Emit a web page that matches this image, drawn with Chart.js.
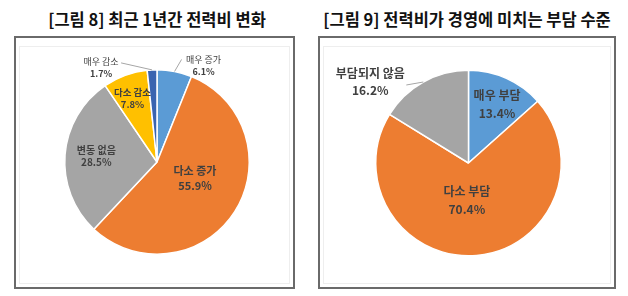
<!DOCTYPE html>
<html>
<head>
<meta charset="utf-8">
<script src="https://cdn.jsdelivr.net/npm/chart.js@4/dist/chart.umd.min.js"></script>
<style>
  body { margin: 0; background: #fff; width: 628px; height: 296px; position: relative; overflow: hidden;
         font-family: "Noto Sans CJK KR", sans-serif; }
  .title { position: absolute; top: 6px; width: 314px; text-align: center; font-weight: bold;
           font-size: 16.5px; color: #111; white-space: nowrap; line-height: 26px; }
  .box { position: absolute; top: 36px; height: 253px; border: 2px solid #6a6a6a; box-sizing: border-box; }
  .inner { position: absolute; left: 3px; top: 8px; right: 3px; bottom: 3px; border: 1px solid #eeeeee; }
  canvas { position: absolute; top: 0; }
</style>
</head>
<body>
<div class="title" style="left:0">[그림 8] 최근 1년간 전력비 변화</div>
<div class="title" style="left:310px">[그림 9] 전력비가 경영에 미치는 부담 수준</div>
<div class="box" style="left:14px;width:281px"><div class="inner"></div></div>
<div class="box" style="left:318px;width:298px"><div class="inner"></div></div>
<div style="position:absolute;left:0;top:0;width:314px;height:296px"><canvas id="c1"></canvas></div>
<div style="position:absolute;left:314px;top:0;width:314px;height:296px"><canvas id="c2"></canvas></div>

<script>
// [그림 8] 최근 1년간 전력비 변화
const changeLabels = ['매우 증가', '다소 증가', '변동 없음', '다소 감소', '매우 감소'];
const changeValues = [6.1, 55.9, 28.5, 7.8, 1.7];

// [그림 9] 전력비가 경영에 미치는 부담 수준
const burdenLabels = ['매우 부담', '다소 부담', '부담되지 않음'];
const burdenValues = [13.4, 70.4, 16.2];

const changeColors = ['#5B9BD5', '#ED7D31', '#A5A5A5', '#FFC000', '#3A64B0'];
const burdenColors = ['#5B9BD5', '#ED7D31', '#A5A5A5'];

// where each label sits: fraction of radius along the slice middle, then a nudge
const changePlace = [
  { r: 1, dx: 29, dy: -6, size: 9, bold: false, gap: 12, line: [-22, -6] },
  { r: 0.45, dx: 3, dy: -6, size: 11, bold: true, gap: 15 },
  { r: 0.66, dx: 0, dy: -1, size: 10, bold: true, gap: 12 },
  { r: 0.77, dx: 0, dy: 3, size: 9.5, bold: true, gap: 12 },
  { r: 1, dx: -51, dy: -2, size: 9, bold: false, gap: 12, line: [20, -5] }
];
const burdenPlace = [
  { r: 0.7, dx: 2, dy: 1, size: 12, bold: true, gap: 18 },
  { r: 0.41, dx: -5, dy: 0, size: 12, bold: true, gap: 18 },
  { r: 1, dx: -53, dy: 0, size: 12, bold: true, gap: 17, line: [36, 3] }
];

const sliceLabels = {
  id: 'sliceLabels',
  afterDatasetsDraw(chart, args, opts) {
    const ctx = chart.ctx;
    const meta = chart.getDatasetMeta(0);
    const ds = chart.data.datasets[0];
    ctx.save();
    meta.data.forEach((arc, i) => {
      const p = opts.place[i];
      const mid = (arc.startAngle + arc.endAngle) / 2;
      const cx = arc.x + Math.cos(mid) * arc.outerRadius * p.r + p.dx;
      const cy = arc.y + Math.sin(mid) * arc.outerRadius * p.r + p.dy;

      if (p.line) {
        ctx.strokeStyle = '#a6a6a6';
        ctx.lineWidth = 1;
        ctx.beginPath();
        ctx.moveTo(arc.x + Math.cos(mid) * arc.outerRadius, arc.y + Math.sin(mid) * arc.outerRadius);
        ctx.lineTo(cx + p.line[0], cy + p.line[1]);
        ctx.stroke();
      }

      ctx.fillStyle = '#404040';
      ctx.textAlign = 'center';
      ctx.textBaseline = 'middle';
      ctx.font = (p.bold ? 'bold ' : '') + p.size + 'px "Noto Sans CJK KR"';
      ctx.fillText(chart.data.labels[i], cx, cy - p.gap / 2);
      ctx.font = 'bold ' + p.size + 'px "Noto Sans CJK KR"';
      ctx.fillText(ds.data[i].toFixed(1) + '%', cx, cy + p.gap / 2);
    });
    ctx.restore();
  }
};

function makePie(id, labels, values, colors, place, padding) {
  return new Chart(document.getElementById(id), {
    type: 'pie',
    data: {
      labels: labels,
      datasets: [{
        data: values,
        backgroundColor: colors,
        borderColor: '#ffffff',
        borderWidth: 1.5
      }]
    },
    options: {
      responsive: true,
      maintainAspectRatio: false,
      animation: false,
      layout: { padding: padding },
      plugins: {
        legend: { display: false },
        tooltip: { enabled: false },
        sliceLabels: { place: place }
      }
    },
    plugins: [sliceLabels]
  });
}

makePie('c1', changeLabels, changeValues, changeColors, changePlace,
  { left: 64, right: 64, top: 69, bottom: 41 });
makePie('c2', burdenLabels, burdenValues, burdenColors, burdenPlace,
  { left: 61, right: 66, top: 69, bottom: 39 });
</script>
</body>
</html>
